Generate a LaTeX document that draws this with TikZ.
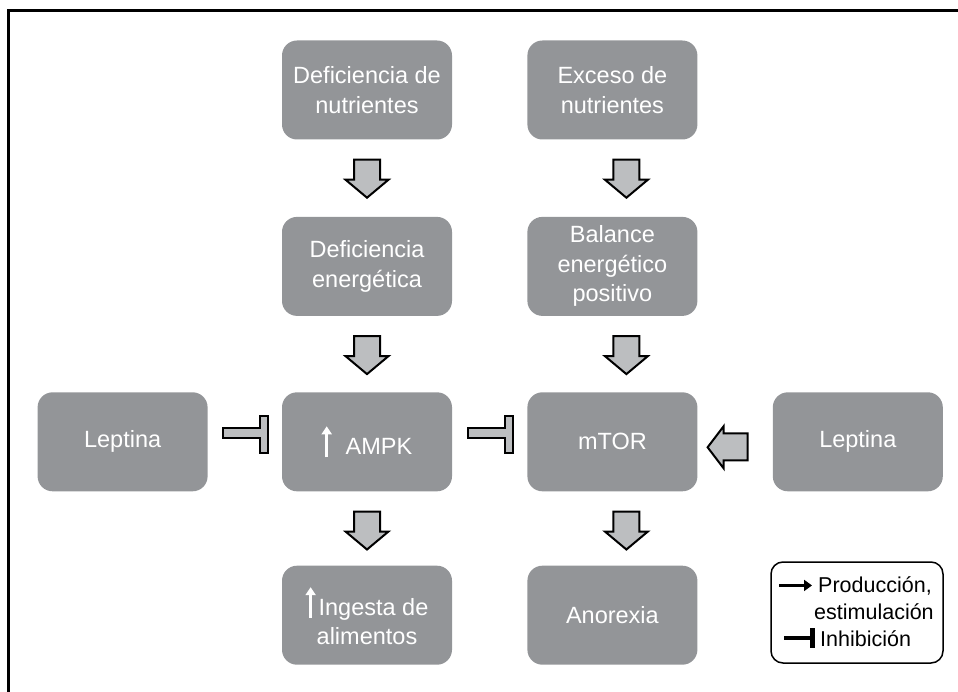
\documentclass[tikz,border=0pt]{standalone}
\usepackage{fontspec}
\setmainfont{Liberation Sans}
\usetikzlibrary{arrows.meta, positioning}

\definecolor{boxgray}{RGB}{147,149,152}
\definecolor{arrowgray}{RGB}{188,190,192}

% small white arrow inside the text
\newcommand{\upArr}{\tikz[baseline=0pt,x=1pt,y=1pt]\draw[white,line width=3.5pt,-{Triangle[length=8pt,width=10pt]}] (0,-3) -- (0,28);}

% block arrow below a node
\newcommand{\blockdown}[2][0]{%
	\draw[blockarrow, shift={(#2.south)}, xshift=#1pt] (-13,20) -- (13,20) -- (13,40) -- (21.5,40) -- (0,58) -- (-21.5,40) -- (-13,40) -- cycle;}

% inhibition bar left of a node
\newcommand{\blockbar}[1]{%
	\draw[blockarrow, shift={(#1.west)}] (-59,-13.5) -- (-22,-13.5) -- (-22,-25.5) -- (-14,-25.5) -- (-14,11.5) -- (-22,11.5) -- (-22,-3.5) -- (-59,-3.5) -- cycle;}

\begin{document}
\begin{tikzpicture}[x=1pt,y=-1pt,node distance=75pt]

		\tikzstyle{box}=[rectangle,rounded corners=15pt,fill=boxgray,text=white,
			minimum width=170pt,minimum height=99pt,inner sep=0pt,align=center,
			font=\fontsize{23.5}{29.5}\selectfont]
		\tikzstyle{blockarrow}=[draw=black,line width=2pt,fill=arrowgray,line join=miter]
		\tikzstyle{legendtext}=[anchor=base west,inner sep=0pt,font=\fontsize{21.5}{27}\selectfont]

		\useasboundingbox (0,0) rectangle (958,692);
		\draw[line width=3pt] (8.5,692) -- (8.5,11) -- (958,11);

		\node [box] (DN) at (367,90) {Deficiencia de\\nutrientes};
		\node [box, right=of DN] (EN) {Exceso de\\nutrientes};
		\node [box, below=77pt of DN] (DE) {Deficiencia\\energética};
		\node [box, below=77pt of EN] (BE) {Balance\\energético\\positivo};
		\node [box, below=76pt of DE] (AMPK) {\upArr\hspace{14pt}AMPK};
		\node [box, below=76pt of BE] (mTOR) {mTOR};
		\node [box, left=74pt of AMPK] (LepL) {Leptina};
		\node [box, right=of mTOR] (LepR) {Leptina};
		\node [box, below=74pt of AMPK] (IA) {\upArr\hspace{3pt}Ingesta de\\alimentos};
		\node [box, below=74pt of mTOR] (AN) {Anorexia};

		\blockdown{DN}
		\blockdown[14]{EN}
		\blockdown{DE}
		\blockdown[14]{BE}
		\blockdown{AMPK}
		\blockdown[14]{mTOR}
		\blockbar{AMPK}
		\blockbar{mTOR}
		\draw[blockarrow, shift={(mTOR.east)}] (10,5.5) -- (26,-15.5) -- (26,-8.5) -- (50,-8.5)
			-- (50,18.5) -- (26,18.5) -- (26,26.5) -- cycle;

		% legend
		\node [draw=black, line width=1.5pt, rounded corners=12pt, minimum width=172pt,
			minimum height=101pt, inner sep=0pt] (legend) at (857,612.5) {};
		\node [legendtext] (prod) at ([shift={(-39,-20.5)}]legend.center) {Producción,};
		\node [legendtext] (estim) at ([shift={(-43,6.5)}]legend.center) {estimulación};
		\node [legendtext] (inhib) at ([shift={(-37,33.5)}]legend.center) {Inhibición};
		\draw[line width=3pt,-{Triangle[length=8pt,width=11pt]}] ([xshift=-39pt]prod.west) -- ([xshift=-6pt]prod.west);
		\draw[line width=4pt] ([xshift=-36pt]inhib.west) -- ([xshift=-9pt]inhib.west);
		\draw[line width=4.5pt] ([shift={(-7.5,-10)}]inhib.west) -- ([shift={(-7.5,10)}]inhib.west);
	\end{tikzpicture}
\end{document}
